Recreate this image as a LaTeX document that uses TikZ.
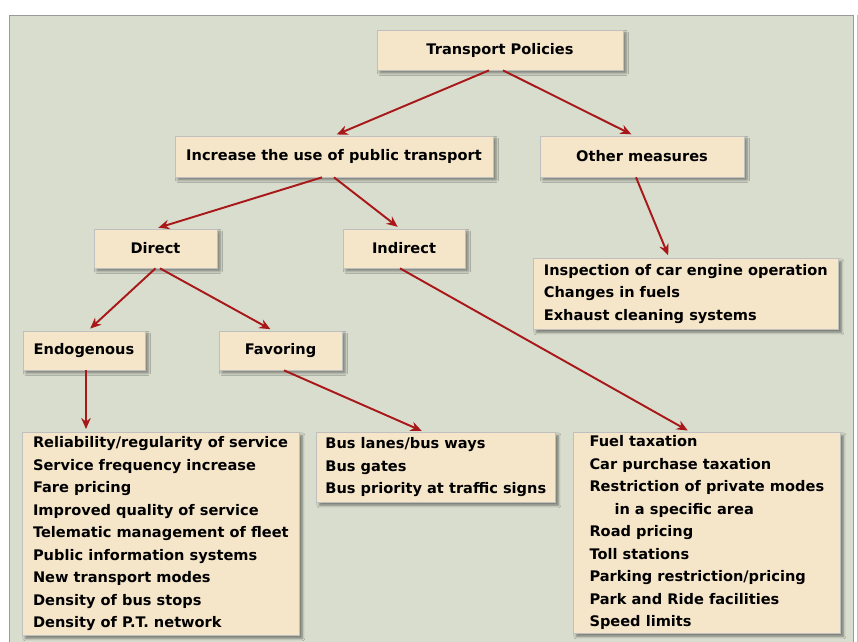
\documentclass[tikz,border=0pt]{standalone}
\usepackage{fontspec}
\setmainfont{DejaVu Sans}
\usepackage{tikz}
\usetikzlibrary{arrows.meta, positioning, shadows.blur}
\definecolor{panel}{HTML}{D8DDCE}
\definecolor{boxfill}{HTML}{F5E6CA}
\definecolor{arrowred}{HTML}{A81818}
\definecolor{framegray}{HTML}{9A9A9A}

\begin{document}
\begin{tikzpicture}[font=\fontsize{8.3}{12.8}\selectfont\bfseries, >={Stealth[length=0.22cm, width=0.19cm]},
  box/.style={draw=black!25, line width=0.4pt, fill=boxfill, inner sep=0pt,
    blur shadow={shadow xshift=0.6mm, shadow yshift=-0.6mm, shadow blur radius=0.5mm, shadow opacity=45}},
  listbox/.style={box, align=left, anchor=north west},
  link/.style={->, arrowred, line width=1.1pt, shorten >=0.06cm}]
  \useasboundingbox (0,0) rectangle (17.16,12.84);
  % Rahmen
  \fill[white] (0,0) rectangle (17.16,12.84);
  \draw[framegray, fill=panel] (0.18,-0.2) -- (0.18,12.54) -- (17.06,12.54) -- (17.06,-0.2);
  \draw[framegray!60] (17.14,-0.2) -- (17.14,12.54);

  % obere Ebene
  \node[box, minimum width=4.92cm, minimum height=0.80cm] (tp) at (10.00,11.84) {Transport Policies};
  \node[box, minimum width=6.36cm, minimum height=0.82cm] (inc) at (6.68,9.71) {Increase the use of public transport};
  \node[box, minimum width=4.08cm, minimum height=0.82cm] (other) at (12.84,9.71) {Other measures};

  % zweite Ebene
  \node[box, minimum width=2.46cm, minimum height=0.78cm] (direct) at (3.11,7.87) {Direct};
  \node[box, minimum width=2.44cm, minimum height=0.78cm] (indirect) at (8.08,7.87) {Indirect};
  \node[box, minimum width=2.44cm, minimum height=0.78cm] (endo) at (1.68,5.83) {Endogenous};
  \node[box, minimum width=2.46cm, minimum height=0.78cm] (fav) at (5.61,5.83) {Favoring};

  % Listen
  \node[listbox, minimum width=6.10cm, minimum height=1.42cm] (insp) at (10.66,7.68)
    {Inspection of car engine operation\\Changes in fuels\\Exhaust cleaning systems};
  \node[listbox, minimum width=5.54cm, minimum height=4.06cm] (endolist) at (0.44,4.20)
    {Reliability/regularity of service\\Service frequency increase\\Fare pricing\\Improved quality of service\\
     Telematic management of fleet\\Public information systems\\New transport modes\\Density of bus stops\\
     Density of P.T. network};
  \node[listbox, minimum width=4.78cm, minimum height=1.40cm] (buslist) at (6.32,4.20)
    {Bus lanes/bus ways\\Bus gates\\Bus priority at traffic signs};
  \node[listbox, minimum width=5.34cm, minimum height=4.02cm] (indlist) at (11.46,4.20)
    {Fuel taxation\\Car purchase taxation\\Restriction of private modes\\\hspace*{0.5cm}in a specific area\\
     Road pricing\\Toll stations\\Parking restriction/pricing\\Park and Ride facilities\\Speed limits};

  % Pfeile
  \draw[link] ([xshift=-0.22cm]tp.south) -- (inc.north);
  \draw[link] ([xshift=0.06cm]tp.south) -- ([xshift=-0.16cm]other.north);
  \draw[link] ([xshift=-0.24cm]inc.south) -- (direct.north);
  \draw[link] (inc.south) -- ([xshift=-0.08cm]indirect.north);
  \draw[link] ([xshift=-0.12cm]other.south) -- ([xshift=-0.33cm]insp.north);
  \draw[link] (direct.south) -- ([xshift=0.08cm]endo.north);
  \draw[link] ([xshift=0.09cm]direct.south) -- ([xshift=-0.15cm]fav.north);
  \draw[link] ([xshift=0.04cm]endo.south) -- ([xshift=0.04cm]endo.south |- endolist.north);
  \draw[link] ([xshift=0.07cm]fav.south) -- ([xshift=-0.23cm]buslist.north);
  \draw[link] ([xshift=-0.08cm]indirect.south) -- ([xshift=-0.33cm]indlist.north);
\end{tikzpicture}
\end{document}
